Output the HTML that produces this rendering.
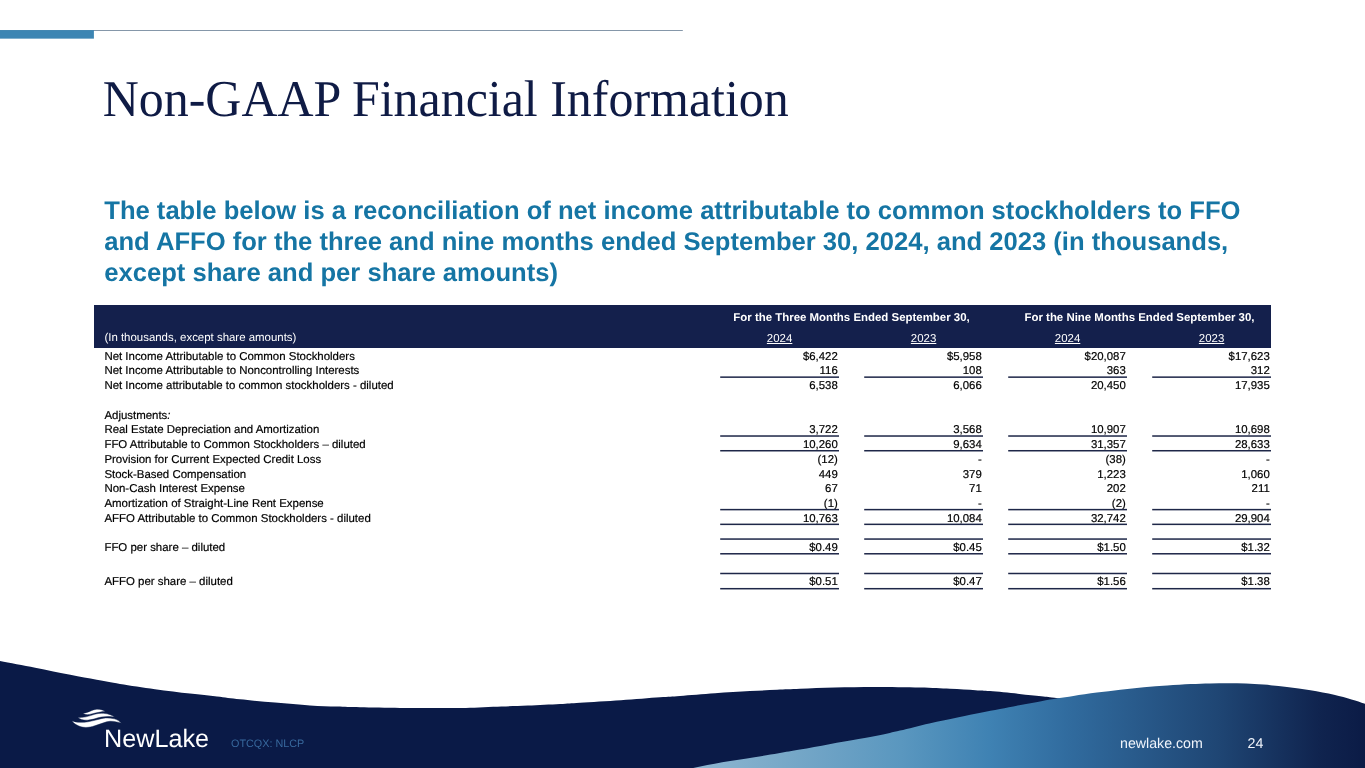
<!DOCTYPE html>
<html lang="en">
<head>
<meta charset="utf-8">
<title>Non-GAAP Financial Information</title>
<style>
html,body{margin:0;padding:0;}
body{text-rendering:geometricPrecision;width:1365px;height:768px;overflow:hidden;background:#fff;position:relative;font-family:"Liberation Sans",Arial,sans-serif;}
.abs{position:absolute;}
#bar{position:absolute;left:0;top:30.5px;width:94px;height:8px;background:#3f85b4;}
#rule{position:absolute;left:0;top:30px;width:683px;height:1px;background:#7f9cb3;}
h1{position:absolute;left:102.7px;top:71px;margin:0;font-family:"Liberation Serif","Times New Roman",serif;font-weight:normal;font-size:49.95px;line-height:56px;color:#0f1b45;white-space:nowrap;text-rendering:geometricPrecision;transform:scaleY(1.033);transform-origin:0 44.8px;}
#sub{position:absolute;left:104.25px;top:196px;margin:0;width:1200px;height:95px;font-weight:bold;font-size:25.6px;line-height:30px;color:#1575a4;}
#sub span{position:absolute;left:0;white-space:nowrap;display:block;}
#thead{position:absolute;left:94px;top:305.1px;width:1177px;height:42.6px;background:#14204c;}
.h{position:absolute;color:#fff;font-size:11.45px;line-height:14px;white-space:nowrap;}
.hb{font-weight:bold;text-align:center;width:264px;}
.hy{text-align:center;width:118.8px;text-decoration:underline;}
.lb{-webkit-text-stroke:0.18px #000;position:absolute;left:104.4px;font-size:11.45px;line-height:14.72px;height:14.72px;color:#000;white-space:nowrap;}
.v{-webkit-text-stroke:0.18px #000;position:absolute;width:117.6px;text-align:right;font-size:11.4px;line-height:14.72px;height:14.72px;color:#000;white-space:nowrap;}
.ln{position:absolute;width:118.8px;height:1.15px;background:#1f2a4c;}
#footer{position:absolute;left:0;top:640px;width:1365px;height:128px;}
#logo{position:absolute;left:104.0px;top:725.0px;font-size:25.2px;line-height:28px;color:#fff;white-space:nowrap;}
#otc{position:absolute;left:231px;top:737.5px;font-size:10.8px;line-height:13px;color:#38699e;white-space:nowrap;}
#site{position:absolute;left:1120px;top:736px;font-size:14.2px;line-height:17px;color:#f0f4fb;white-space:nowrap;}
#pg{position:absolute;left:1247.5px;top:736px;font-size:14.2px;line-height:17px;color:#f0f4fb;white-space:nowrap;}
</style>
</head>
<body>
<svg class="abs" style="left:0;top:20px" width="700" height="30" viewBox="0 20 700 30"><rect x="0" y="30" width="682.8" height="1" fill="#8597a9"/><rect x="0" y="30.1" width="93.9" height="8.55" fill="#3c85b3"/></svg>
<h1>Non-GAAP Financial Information</h1>
<p id="sub"><span style="top:0">The table below is a reconciliation of net income attributable to common stockholders to FFO </span><span style="top:31px">and AFFO for the three and nine months ended September 30, 2024, and 2023 (in thousands, </span><span style="top:62px">except share and per share amounts)</span></p>

<div id="thead"></div>
<div class="h hb" style="left:719.5px;top:310.5px">For the Three Months Ended September 30,</div>
<div class="h hb" style="left:1007.5px;top:310.5px">For the Nine Months Ended September 30,</div>
<div class="h" style="left:104.4px;top:331.3px">(In thousands, except share amounts)</div>
<div class="h hy" style="left:720.2px;top:331.6px">2024</div>
<div class="h hy" style="left:864.2px;top:331.6px">2023</div>
<div class="h hy" style="left:1008.2px;top:331.6px">2024</div>
<div class="h hy" style="left:1152.2px;top:331.6px">2023</div>

<div class="lb" style="top:350.17px">Net Income Attributable to Common Stockholders</div>
<div class="v" style="top:350.17px;left:720.2px">$6,422</div>
<div class="v" style="top:350.17px;left:864.2px">$5,958</div>
<div class="v" style="top:350.17px;left:1008.2px">$20,087</div>
<div class="v" style="top:350.17px;left:1152.2px">$17,623</div>
<div class="lb" style="top:364.17px">Net Income Attributable to Noncontrolling Interests</div>
<div class="v" style="top:364.17px;left:720.2px">116</div>
<div class="v" style="top:364.17px;left:864.2px">108</div>
<div class="v" style="top:364.17px;left:1008.2px">363</div>
<div class="v" style="top:364.17px;left:1152.2px">312</div>
<div class="lb" style="top:379.17px">Net Income attributable to common stockholders - diluted</div>
<div class="v" style="top:379.17px;left:720.2px">6,538</div>
<div class="v" style="top:379.17px;left:864.2px">6,066</div>
<div class="v" style="top:379.17px;left:1008.2px">20,450</div>
<div class="v" style="top:379.17px;left:1152.2px">17,935</div>
<div class="lb" style="top:409.17px">Adjustments<i>:</i></div>
<div class="lb" style="top:423.17px">Real Estate Depreciation and Amortization</div>
<div class="v" style="top:423.17px;left:720.2px">3,722</div>
<div class="v" style="top:423.17px;left:864.2px">3,568</div>
<div class="v" style="top:423.17px;left:1008.2px">10,907</div>
<div class="v" style="top:423.17px;left:1152.2px">10,698</div>
<div class="lb" style="top:438.17px">FFO Attributable to Common Stockholders – diluted</div>
<div class="v" style="top:438.17px;left:720.2px">10,260</div>
<div class="v" style="top:438.17px;left:864.2px">9,634</div>
<div class="v" style="top:438.17px;left:1008.2px">31,357</div>
<div class="v" style="top:438.17px;left:1152.2px">28,633</div>
<div class="lb" style="top:453.17px">Provision for Current Expected Credit Loss</div>
<div class="v" style="top:453.17px;left:720.2px">(12)</div>
<div class="v" style="top:453.17px;left:864.2px">-</div>
<div class="v" style="top:453.17px;left:1008.2px">(38)</div>
<div class="v" style="top:453.17px;left:1152.2px">-</div>
<div class="lb" style="top:468.17px">Stock-Based Compensation</div>
<div class="v" style="top:468.17px;left:720.2px">449</div>
<div class="v" style="top:468.17px;left:864.2px">379</div>
<div class="v" style="top:468.17px;left:1008.2px">1,223</div>
<div class="v" style="top:468.17px;left:1152.2px">1,060</div>
<div class="lb" style="top:482.17px">Non-Cash Interest Expense</div>
<div class="v" style="top:482.17px;left:720.2px">67</div>
<div class="v" style="top:482.17px;left:864.2px">71</div>
<div class="v" style="top:482.17px;left:1008.2px">202</div>
<div class="v" style="top:482.17px;left:1152.2px">211</div>
<div class="lb" style="top:497.17px">Amortization of Straight-Line Rent Expense</div>
<div class="v" style="top:497.17px;left:720.2px">(1)</div>
<div class="v" style="top:497.17px;left:864.2px">-</div>
<div class="v" style="top:497.17px;left:1008.2px">(2)</div>
<div class="v" style="top:497.17px;left:1152.2px">-</div>
<div class="lb" style="top:512.17px">AFFO Attributable to Common Stockholders - diluted</div>
<div class="v" style="top:512.17px;left:720.2px">10,763</div>
<div class="v" style="top:512.17px;left:864.2px">10,084</div>
<div class="v" style="top:512.17px;left:1008.2px">32,742</div>
<div class="v" style="top:512.17px;left:1152.2px">29,904</div>
<div class="lb" style="top:541.17px">FFO per share – diluted</div>
<div class="v" style="top:541.17px;left:720.2px">$0.49</div>
<div class="v" style="top:541.17px;left:864.2px">$0.45</div>
<div class="v" style="top:541.17px;left:1008.2px">$1.50</div>
<div class="v" style="top:541.17px;left:1152.2px">$1.32</div>
<div class="lb" style="top:575.17px">AFFO per share – diluted</div>
<div class="v" style="top:575.17px;left:720.2px">$0.51</div>
<div class="v" style="top:575.17px;left:864.2px">$0.47</div>
<div class="v" style="top:575.17px;left:1008.2px">$1.56</div>
<div class="v" style="top:575.17px;left:1152.2px">$1.38</div>
<svg class="abs" style="left:0;top:0" width="1365" height="640" viewBox="0 0 1365 640"><g fill="#1e2748">
<rect x="720.2" y="376.39" width="118.8" height="1.5"/>
<rect x="864.2" y="376.39" width="118.8" height="1.5"/>
<rect x="1008.2" y="376.39" width="118.8" height="1.5"/>
<rect x="1152.2" y="376.39" width="118.8" height="1.5"/>
<rect x="720.2" y="435.27" width="118.8" height="1.5"/>
<rect x="864.2" y="435.27" width="118.8" height="1.5"/>
<rect x="1008.2" y="435.27" width="118.8" height="1.5"/>
<rect x="1152.2" y="435.27" width="118.8" height="1.5"/>
<rect x="720.2" y="449.99" width="118.8" height="1.5"/>
<rect x="864.2" y="449.99" width="118.8" height="1.5"/>
<rect x="1008.2" y="449.99" width="118.8" height="1.5"/>
<rect x="1152.2" y="449.99" width="118.8" height="1.5"/>
<rect x="720.2" y="508.87" width="118.8" height="1.5"/>
<rect x="864.2" y="508.87" width="118.8" height="1.5"/>
<rect x="1008.2" y="508.87" width="118.8" height="1.5"/>
<rect x="1152.2" y="508.87" width="118.8" height="1.5"/>
<rect x="720.2" y="523.59" width="118.8" height="1.5"/>
<rect x="864.2" y="523.59" width="118.8" height="1.5"/>
<rect x="1008.2" y="523.59" width="118.8" height="1.5"/>
<rect x="1152.2" y="523.59" width="118.8" height="1.5"/>
<rect x="720.2" y="538.31" width="118.8" height="1.5"/>
<rect x="864.2" y="538.31" width="118.8" height="1.5"/>
<rect x="1008.2" y="538.31" width="118.8" height="1.5"/>
<rect x="1152.2" y="538.31" width="118.8" height="1.5"/>
<rect x="720.2" y="553.03" width="118.8" height="1.5"/>
<rect x="864.2" y="553.03" width="118.8" height="1.5"/>
<rect x="1008.2" y="553.03" width="118.8" height="1.5"/>
<rect x="1152.2" y="553.03" width="118.8" height="1.5"/>
<rect x="720.2" y="572.75" width="118.8" height="1.5"/>
<rect x="864.2" y="572.75" width="118.8" height="1.5"/>
<rect x="1008.2" y="572.75" width="118.8" height="1.5"/>
<rect x="1152.2" y="572.75" width="118.8" height="1.5"/>
<rect x="720.2" y="587.95" width="118.8" height="1.5"/>
<rect x="864.2" y="587.95" width="118.8" height="1.5"/>
<rect x="1008.2" y="587.95" width="118.8" height="1.5"/>
<rect x="1152.2" y="587.95" width="118.8" height="1.5"/>
</g></svg>

<svg id="footer" viewBox="0 640 1365 128">
<defs>
<linearGradient id="g" gradientUnits="userSpaceOnUse" x1="693" y1="0" x2="1365" y2="0">
<stop offset="0" stop-color="#8eb6d1"/>
<stop offset="0.10" stop-color="#7eacca"/>
<stop offset="0.31" stop-color="#5a97bf"/>
<stop offset="0.44" stop-color="#3f82b3"/>
<stop offset="0.555" stop-color="#316c9f"/>
<stop offset="0.78" stop-color="#1f4674"/>
<stop offset="0.93" stop-color="#10244f"/>
<stop offset="1" stop-color="#0b1b46"/>
</linearGradient>
</defs>
<path fill="#0a1a47" d="M-20.0,657.0 C-16.7,657.7 -9.2,659.2 0.0,661.0 C9.2,662.8 23.5,665.4 35.2,667.7 C46.9,670.0 60.0,672.8 70.3,674.8 C80.5,676.8 88.4,678.3 96.7,679.8 C105.0,681.3 110.3,682.4 120.0,684.0 C129.7,685.6 143.3,687.6 155.0,689.2 C166.7,690.8 179.7,692.4 190.0,693.6 C200.3,694.8 208.7,695.5 217.0,696.5 C225.3,697.5 230.3,698.3 240.0,699.3 C249.7,700.3 263.3,701.6 275.0,702.6 C286.7,703.6 299.7,704.7 310.0,705.4 C320.3,706.1 328.7,706.3 337.0,706.6 C345.3,706.9 349.5,707.1 360.0,707.3 C370.5,707.5 386.7,707.8 400.0,707.9 C413.3,708.0 429.0,708.0 440.0,708.0 C451.0,708.0 455.8,708.2 466.0,708.0 C476.2,707.8 491.2,707.0 501.5,706.6 C511.8,706.2 518.2,706.0 528.0,705.6 C537.8,705.2 551.3,704.5 560.0,704.0 C568.7,703.5 569.8,703.3 580.0,702.7 C590.2,702.1 607.7,701.1 621.0,700.2 C634.3,699.3 650.2,698.0 660.0,697.3 C669.8,696.6 670.8,696.7 680.0,696.0 C689.2,695.3 703.3,694.1 715.0,693.3 C726.7,692.5 739.7,691.7 750.0,691.1 C760.3,690.5 768.7,690.2 777.0,689.8 C785.3,689.4 790.3,689.2 800.0,688.8 C809.7,688.4 822.5,687.9 835.0,687.6 C847.5,687.3 860.8,687.1 875.0,687.1 C889.2,687.1 907.5,687.3 920.0,687.6 C932.5,687.9 940.8,688.4 950.0,688.8 C959.2,689.2 968.8,689.8 975.5,690.2 C982.2,690.6 982.7,690.5 990.0,691.1 C997.3,691.7 1010.8,693.0 1019.3,693.9 C1027.8,694.8 1034.9,695.6 1041.3,696.3 C1047.7,697.0 1048.0,697.0 1057.8,698.3 C1067.6,699.6 1093.0,703.0 1100.0,704.0 L1100,768 L-20,768 Z"/>
<path fill="url(#g)" d="M665.0,774.0 C669.7,773.0 683.7,770.0 693.2,768.0 C702.7,766.0 712.0,764.0 722.2,762.2 C732.4,760.4 745.1,758.7 754.5,757.2 C763.9,755.7 771.0,754.6 778.6,753.3 C786.2,752.0 791.5,751.1 800.0,749.6 C808.5,748.1 819.5,746.0 829.3,744.2 C839.1,742.4 850.0,740.5 858.6,739.0 C867.2,737.5 873.7,736.4 880.6,735.0 C887.5,733.6 891.9,732.5 900.0,730.6 C908.1,728.7 919.5,725.6 929.3,723.4 C939.1,721.2 950.0,719.0 958.6,717.2 C967.2,715.4 973.7,714.1 980.6,712.8 C987.5,711.4 993.5,710.4 1000.0,709.1 C1006.5,707.9 1012.4,706.6 1019.3,705.3 C1026.2,704.0 1034.9,702.4 1041.3,701.2 C1047.7,700.0 1052.4,699.2 1057.8,698.3 C1063.2,697.4 1066.9,696.8 1073.4,695.9 C1079.9,695.0 1089.1,693.6 1096.9,692.6 C1104.7,691.6 1112.5,690.6 1120.3,689.7 C1128.1,688.8 1136.0,688.0 1143.8,687.3 C1151.6,686.6 1159.4,686.1 1167.2,685.6 C1175.0,685.1 1183.6,684.5 1190.7,684.1 C1197.8,683.7 1203.8,683.5 1210.0,683.4 C1216.2,683.2 1222.0,683.2 1228.0,683.2 C1234.0,683.2 1240.1,683.3 1246.0,683.5 C1251.9,683.7 1256.8,684.0 1263.6,684.6 C1270.4,685.2 1279.2,686.1 1287.0,687.0 C1294.8,687.9 1302.7,688.9 1310.5,690.2 C1318.3,691.5 1327.2,693.2 1334.0,694.7 C1340.8,696.2 1346.3,697.9 1351.5,699.4 C1356.7,700.9 1360.2,702.1 1365.0,703.7 C1369.8,705.3 1377.5,708.1 1380.0,709.0 L1380,780 L665,780 Z"/>
<g fill="#fff" stroke="#0a1a47" stroke-width="0.45" transform="translate(0.1,0.35)">
<path d="M83.1,712.6 C88,712.8 92,709 96.8,708.8 C100.5,708.6 103.5,709.8 105.6,711.3 C104,711.2 102.3,711.3 100.3,711.7 C97.5,712.1 95,712.8 92.4,713.4 C90.5,713.9 88.8,714.3 87.1,714.3 C85.5,714.3 84.2,713.6 83.1,712.6 Z"/>
<path d="M77.6,717.2 C80,717.3 83,717 85.8,716.5 C89,715.8 91.8,714.8 94.6,713.9 C97.5,713.1 100.4,712.8 103.4,713 C106,713.2 108.2,713.6 110,714.3 C111.8,715 113.3,715.8 114.4,716.7 C112.4,716.2 110.2,716 107.8,716.1 C105.5,716.2 103.3,716.4 101.2,716.7 C98.9,717.1 96.8,717.8 94.6,718.5 C92.1,719.2 89.6,719.7 87.1,719.8 C85,719.9 83.2,719.7 81.4,719.2 C79.9,718.7 78.6,718 77.6,717.2 Z"/>
<path d="M71.9,720.3 C74,721.3 76.6,721.8 79.2,722 C82.2,722.1 85.2,721.9 88,721.4 C91,720.9 93.9,720.1 96.8,719.4 C99.8,718.6 102.7,717.8 105.6,717.6 C108.7,717.4 111.7,717.7 114.4,718.5 C117.3,719.4 119.7,720.9 121.2,722.9 C119.8,722.2 118.2,721.8 116.5,721.6 C114.4,721.1 112.2,720.8 110,720.9 C107.7,721.1 105.5,721.7 103.4,722.5 C100.4,723.5 97.5,724.6 94.6,725.5 C91.7,726.4 88.8,727.1 85.8,727.1 C83.1,727.1 80.6,726.5 78.3,725.5 C76.6,724.7 75.1,723.9 73.9,722.9 C73.1,722.1 72.4,721.2 71.9,720.3 Z"/>
</g>
</svg>
<div id="logo">NewLake</div>
<div id="otc">OTCQX: NLCP</div>
<div id="site">newlake.com</div>
<div id="pg">24</div>
</body>
</html>
